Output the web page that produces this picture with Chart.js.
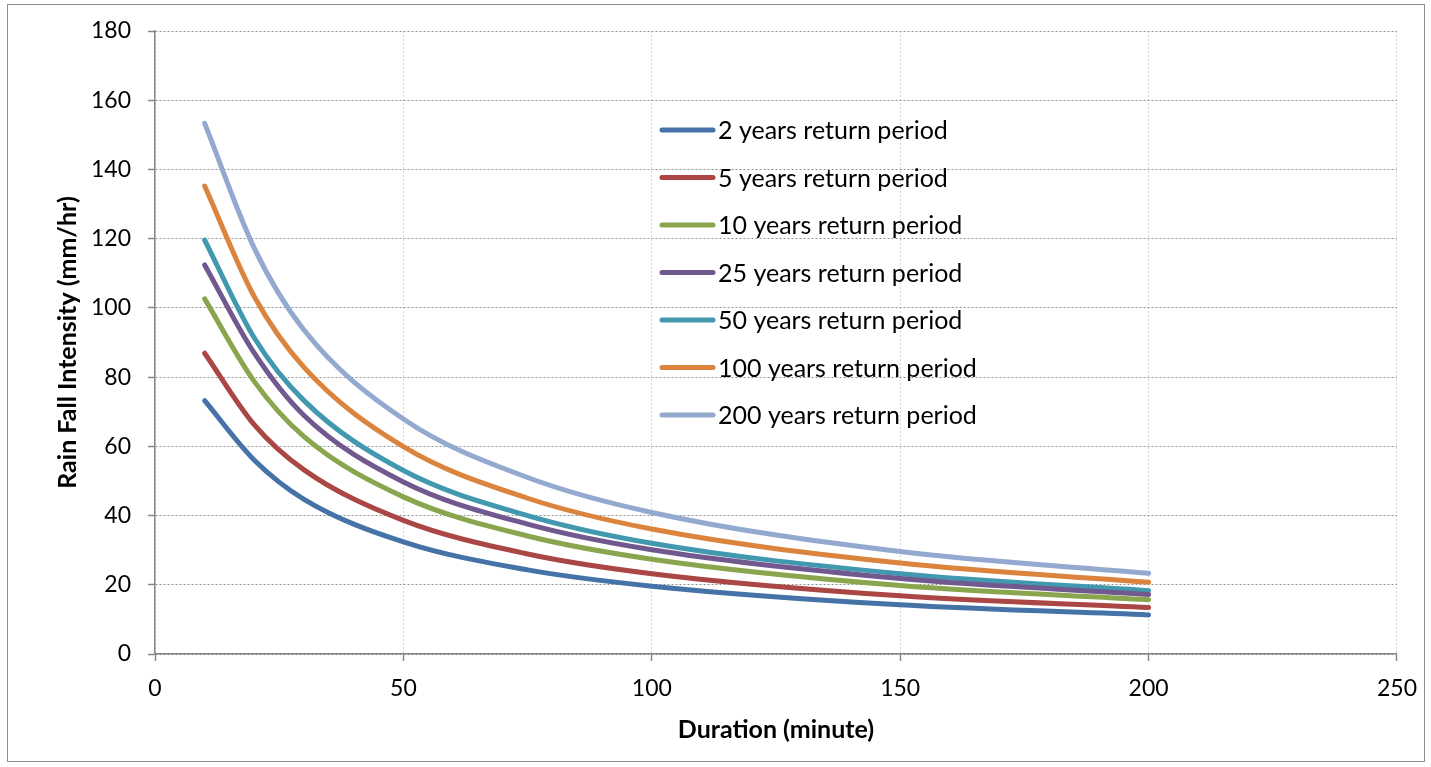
<!DOCTYPE html>
<html>
<head>
<meta charset="utf-8">
<script src="https://cdn.jsdelivr.net/npm/chart.js@4.4.1/dist/chart.umd.min.js"></script>
<style>
  html, body { margin: 0; padding: 0; background: #fff; }
  #wrap { width: 1431px; height: 767px; }
</style>
</head>
<body>
<div id="wrap"><canvas id="idf"></canvas></div>
<script>
// durations (minute) and intensities (mm/hr)
const durations = [10, 20, 30, 50, 75, 100, 150, 200];

const rp2 = [73.2, 56.0, 44.7, 32.4, 24.3, 19.6, 14.2, 11.3];
const rp5 = [86.9, 66.2, 53.2, 38.6, 28.9, 23.2, 16.8, 13.4];
const rp10 = [102.6, 78.7, 62.8, 45.4, 34.1, 27.4, 19.8, 15.7];
const rp25 = [112.4, 86.9, 68.9, 49.7, 37.5, 30.1, 21.8, 17.2];
const rp50 = [119.6, 91.3, 73.2, 53.0, 40.0, 32.0, 23.2, 18.3];
const rp100 = [135.2, 103.2, 82.8, 59.9, 45.0, 36.1, 26.3, 20.7];
const rp200 = [153.3, 117.2, 93.6, 67.9, 51.0, 40.9, 29.6, 23.3];

const seriesLabels = [
  "2 years return period",
  "5 years return period",
  "10 years return period",
  "25 years return period",
  "50 years return period",
  "100 years return period",
  "200 years return period",
];
const seriesValues = [rp2, rp5, rp10, rp25, rp50, rp100, rp200];
const colors = ["#4572A7", "#AA4643", "#89A54E", "#71588F", "#4198AF", "#DB843D", "#93A9CF"];

const FONT = "Lato, 'Liberation Sans', sans-serif";

// outer frame of the chart
const framePlugin = {
  id: "frame",
  beforeDraw(chart) {
    const c = chart.ctx;
    c.save();
    c.fillStyle = "#fff";
    c.fillRect(0, 0, chart.width, chart.height);
    c.strokeStyle = "#8c8c8c";
    c.lineWidth = 1;
    c.strokeRect(7.5, 4.5, 1417, 757);
    c.restore();
  },
};

// legend sitting inside the plot, like the Excel one
const insideLegend = {
  id: "insideLegend",
  afterDraw(chart) {
    const c = chart.ctx;
    c.save();
    c.font = "25px " + FONT;
    c.textBaseline = "middle";
    chart.data.datasets.forEach((ds, i) => {
      const y = 130 + i * 47.5;
      c.strokeStyle = ds.borderColor;
      c.lineWidth = 5;
      c.lineCap = "round";
      c.beginPath();
      c.moveTo(662, y);
      c.lineTo(713, y);
      c.stroke();
      c.fillStyle = "#000";
      c.fillText(ds.label, 718, y + 1);
    });
    c.restore();
  },
};

new Chart(document.getElementById("idf"), {
  type: "line",
  data: {
    datasets: seriesValues.map((vals, i) => ({
      label: seriesLabels[i],
      data: durations.map((d, j) => ({ x: d, y: vals[j] })),
      borderColor: colors[i],
      backgroundColor: colors[i],
      borderWidth: 5,
      borderCapStyle: "round",
      pointRadius: 0,
      cubicInterpolationMode: "monotone",
      fill: false,
    })),
  },
  options: {
    responsive: true,
    maintainAspectRatio: false,
    animation: false,
    layout: { padding: { left: 8, right: 30, top: 31, bottom: 4 } },
    plugins: {
      legend: { display: false },
      tooltip: { enabled: false },
    },
    scales: {
      x: {
        type: "linear",
        min: 0,
        max: 250,
        ticks: { stepSize: 50, color: "#000", padding: 14, font: { size: 23, family: FONT } },
        grid: { color: "#d4d4d4", lineWidth: 1, tickColor: "#868686", tickLength: 7, tickWidth: 1.5 },
        border: { color: "#868686", width: 1.5, dash: [2, 2] },
        title: {
          display: true,
          text: "Duration (minute)",
          color: "#000",
          font: { size: 25, weight: "bold", family: FONT },
          padding: { top: 0, bottom: 18 },
        },
        afterFit(scale) { scale.height = 109; },
      },
      y: {
        min: 0,
        max: 180,
        ticks: { stepSize: 20, color: "#000", padding: 17, font: { size: 23, family: FONT } },
        grid: { color: "#8f8f8f", lineWidth: 1, tickColor: "#868686", tickLength: 7, tickWidth: 1.5 },
        border: { color: "#868686", width: 1.5, dash: [2, 2] },
        title: {
          display: true,
          text: "Rain Fall Intensity (mm/hr)",
          color: "#000",
          font: { size: 25, weight: "bold", family: FONT },
          padding: { top: 45, bottom: 0 },
        },
        afterFit(scale) { scale.width = 147; },
      },
    },
  },
  plugins: [framePlugin, insideLegend],
});
</script>
</body>
</html>
